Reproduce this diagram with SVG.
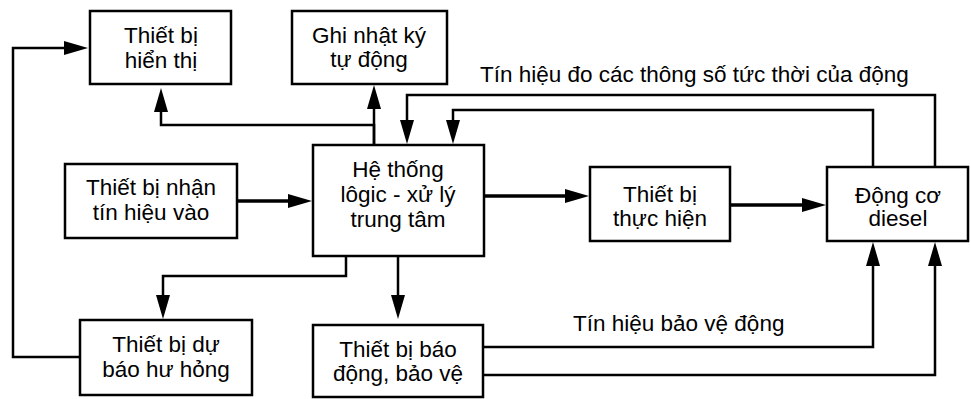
<svg xmlns="http://www.w3.org/2000/svg" width="971" height="399" viewBox="0 0 971 399">
<defs>
<marker id="ah" markerUnits="userSpaceOnUse" markerWidth="24" markerHeight="14" refX="1" refY="7" orient="auto" viewBox="0 0 24 14">
<path d="M0,0 L24,7 L0,14 z" fill="#000"/>
</marker>
</defs>
<style>
.box{fill:#fff;stroke:#000;stroke-width:2.5}
.t{font-family:"Liberation Sans",Arial,sans-serif;font-size:22.5px;fill:#000;text-anchor:middle}
.lbl{font-family:"Liberation Sans",Arial,sans-serif;font-size:22.5px;fill:#000}
.c{fill:none;stroke:#000;stroke-width:2.5;stroke-linejoin:miter}
.ck{fill:none;stroke:#000;stroke-width:3.5}
</style>
<rect width="971" height="399" fill="#fff"/>
<g id="connectors">
<path class="c" d="M80,357 H13 V48 H65" marker-end="url(#ah)"/>
<path class="c" d="M374,145 V125 H161 V111" marker-end="url(#ah)"/>
<path class="c" d="M374,145 V108" marker-end="url(#ah)"/>
<path class="ck" d="M237,201 H289" marker-end="url(#ah)"/>
<path class="ck" d="M484,196 H566" marker-end="url(#ah)"/>
<path class="ck" d="M730,205 H803" marker-end="url(#ah)"/>
<path class="c" d="M935,167 V95 H407 V121" marker-end="url(#ah)"/>
<path class="c" d="M873,167 V110 H453 V121" marker-end="url(#ah)"/>
<path class="c" d="M346,256 V276 H163 V296" marker-end="url(#ah)"/>
<path class="c" d="M398,256 V296" marker-end="url(#ah)"/>
<path class="c" d="M483,347 H873 V265" marker-end="url(#ah)"/>
<path class="c" d="M483,375 H935 V265" marker-end="url(#ah)"/>
<text class="lbl" x="480" y="82">Tín hiệu đo các thông số tức thời của động</text>
<text class="lbl" x="573" y="331">Tín hiệu bảo vệ động</text>
</g>
<g id="hien-thi">
<rect class="box" x="90" y="11" width="141" height="73"/>
<text class="t" x="161" y="43">Thiết bị</text>
<text class="t" x="161" y="68">hiển thị</text>
</g>
<g id="ghi-nhat-ky">
<rect class="box" x="292" y="11" width="155" height="73"/>
<text class="t" x="369" y="43">Ghi nhật ký</text>
<text class="t" x="369" y="67">tự động</text>
</g>
<g id="nhan-tin-hieu">
<rect class="box" x="65" y="164" width="172" height="74"/>
<text class="t" x="151" y="195">Thiết bị nhận</text>
<text class="t" x="151" y="220">tín hiệu vào</text>
</g>
<g id="trung-tam">
<rect class="box" x="313" y="145" width="171" height="111"/>
<text class="t" x="398" y="177">Hệ thống</text>
<text class="t" x="398" y="202">lôgic - xử lý</text>
<text class="t" x="398" y="227">trung tâm</text>
</g>
<g id="thuc-hien">
<rect class="box" x="590" y="167" width="140" height="74"/>
<text class="t" x="660" y="202">Thiết bị</text>
<text class="t" x="660" y="226">thực hiện</text>
</g>
<g id="dong-co">
<rect class="box" x="827" y="167" width="141" height="74"/>
<text class="t" x="898" y="203">Động cơ</text>
<text class="t" x="898" y="226">diesel</text>
</g>
<g id="du-bao">
<rect class="box" x="80" y="320" width="172" height="75"/>
<text class="t" x="166" y="352">Thiết bị dự</text>
<text class="t" x="166" y="377">báo hư hỏng</text>
</g>
<g id="bao-dong">
<rect class="box" x="313" y="325" width="170" height="72"/>
<text class="t" x="398" y="357">Thiết bị báo</text>
<text class="t" x="398" y="381">động, bảo vệ</text>
</g>
</svg>
